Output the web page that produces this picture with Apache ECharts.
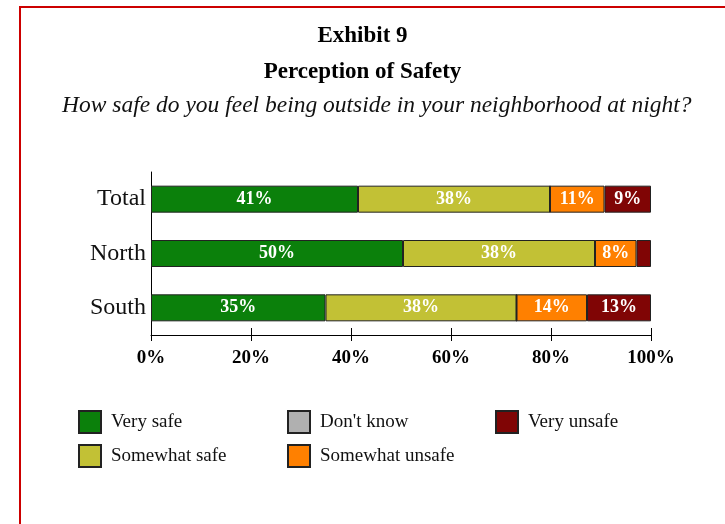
<!DOCTYPE html>
<html>
<head>
<meta charset="utf-8">
<script src="https://cdn.jsdelivr.net/npm/echarts@6/dist/echarts.min.js"></script>
<style>
  html, body { margin: 0; padding: 0; background: #fff; }
  #wrap { position: relative; width: 725px; height: 524px; overflow: hidden; }
  #frame { position: absolute; left: 19px; top: 6px; width: 800px; height: 600px;
           border-left: 2px solid #cc0000; border-top: 2px solid #cc0000; }
  #chart { position: absolute; left: 0; top: 0; width: 725px; height: 524px; }
</style>
</head>
<body>
<div id="wrap">
  <div id="frame"></div>
  <div id="chart"></div>
</div>
<script>
// regions, top to bottom
var regions = ['Total', 'North', 'South'];
var seriesNames = ['Very safe', 'Somewhat safe', "Don't know", 'Somewhat unsafe', 'Very unsafe'];
var colors = ['#0b800b', '#c2c135', '#b0b0b0', '#ff8000', '#800505'];

// percentages per region (Total, North, South)
var verySafe = [41.4, 50.4, 34.9];
var somewhatSafe = [38.4, 38.4, 38.2];
var dontKnow = [0, 0, 0];
var somewhatUnsafe = [10.9, 8.3, 14.1];
var veryUnsafe = [9.3, 2.9, 12.8];

var tickValues = [0, 20, 40, 60, 80, 100];

// legend columns as laid out in the picture
var legendCols = [
  ['Very safe', 'Somewhat safe'],
  ["Don't know", 'Somewhat unsafe'],
  ['Very unsafe']
];
var legendLeft = [78, 287, 495];

var allData = [verySafe, somewhatSafe, dontKnow, somewhatUnsafe, veryUnsafe];
var serif = '"Liberation Serif", "DejaVu Serif", serif';

var chart = echarts.init(document.getElementById('chart'));

var series = seriesNames.map(function (name, i) {
  return {
    name: name,
    type: 'bar',
    stack: 'all',
    barWidth: 27,
    data: allData[i],
    itemStyle: { color: colors[i], borderColor: '#222', borderWidth: 1 },
    label: {
      show: true,
      position: 'inside',
      color: '#fff',
      fontFamily: serif,
      fontWeight: 'bold',
      fontSize: 18,
      formatter: function (p) {
        return p.value >= 5 ? Math.round(p.value) + '%' : '';
      }
    },
    emphasis: { disabled: true }
  };
});

var legends = legendCols.map(function (names, i) {
  return {
    data: names,
    left: legendLeft[i],
    top: 410,
    orient: 'vertical',
    padding: 0,
    itemWidth: 22,
    itemHeight: 22,
    itemGap: 10,
    icon: 'rect',
    selectedMode: false,
    textStyle: { fontFamily: serif, fontSize: 19, color: '#111', padding: [0, 0, 0, 5] }
  };
});

var option = {
  animation: false,
  backgroundColor: 'transparent',
  title: [
    { text: 'Exhibit 9', left: 'center', top: 20,
      textStyle: { fontFamily: serif, fontWeight: 'bold', fontSize: 23, color: '#000' } },
    { text: 'Perception of Safety', left: 'center', top: 56,
      textStyle: { fontFamily: serif, fontWeight: 'bold', fontSize: 23, color: '#000' } },
    { text: 'How safe do you feel being outside in your neighborhood at night?', left: 57, top: 89,
      textStyle: { fontFamily: serif, fontStyle: 'italic', fontWeight: 'normal', fontSize: 23.5, color: '#111' } }
  ],
  legend: legends,
  grid: { left: 151, right: 74, top: 172, height: 163 },
  xAxis: [
    {
      type: 'value', min: 0, max: 100, interval: 20,
      axisLine: { show: true, lineStyle: { color: '#000', width: 1 } },
      axisTick: { show: true, length: 6, lineStyle: { color: '#000' } },
      splitLine: { show: false },
      axisLabel: {
        margin: 14, color: '#000', fontFamily: serif, fontWeight: 'bold', fontSize: 19,
        formatter: function (v) { return tickValues.indexOf(v) >= 0 ? v + '%' : ''; }
      }
    },
    {
      type: 'value', min: 0, max: 100, interval: 20, position: 'bottom',
      axisLine: { show: false },
      axisTick: { show: true, inside: true, length: 7, lineStyle: { color: '#000' } },
      splitLine: { show: false },
      axisLabel: { show: false }
    }
  ],
  yAxis: {
    type: 'category',
    data: regions,
    inverse: true,
    axisLine: { show: true, lineStyle: { color: '#000', width: 1 } },
    axisTick: { show: false },
    axisLabel: { margin: 5, color: '#111', fontFamily: serif, fontSize: 24 }
  },
  series: series
};

chart.setOption(option);
</script>
</body>
</html>
